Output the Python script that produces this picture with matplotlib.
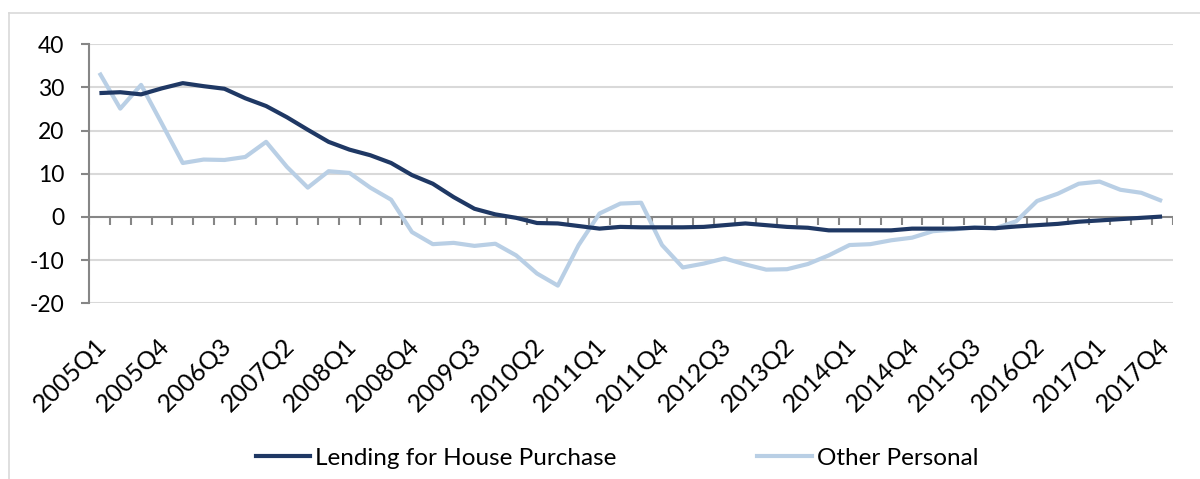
import numpy as np
import matplotlib
matplotlib.use("Agg")
import matplotlib.pyplot as plt
from matplotlib.lines import Line2D
from matplotlib.transforms import ScaledTranslation

plt.rcParams['font.family'] = ['Lato', 'DejaVu Sans']

quarters = [f"{y}Q{q}" for y in range(2005, 2018) for q in range(1, 5)]

house = [28.7, 28.9, 28.4, 29.8, 31.0, 30.3, 29.7, 27.5, 25.7, 23.1,
         20.2, 17.4, 15.6, 14.3, 12.5, 9.7, 7.7, 4.6, 1.9, 0.6,
         -0.2, -1.4, -1.5, -2.1, -2.7, -2.3, -2.4, -2.4, -2.4, -2.3,
         -1.9, -1.5, -1.9, -2.3, -2.5, -3.1, -3.1, -3.1, -3.1, -2.7,
         -2.7, -2.7, -2.5, -2.6, -2.2, -1.9, -1.6, -1.1, -0.8, -0.5,
         -0.2, 0.1]

other = [33.4, 25.1, 30.6, 21.6, 12.5, 13.3, 13.2, 13.9, 17.4, 11.6,
         6.8, 10.6, 10.2, 6.8, 4.0, -3.5, -6.3, -6.0, -6.7, -6.2,
         -8.9, -13.1, -15.9, -6.5, 0.8, 3.1, 3.3, -6.5, -11.7, -10.8,
         -9.6, -11.0, -12.2, -12.1, -10.9, -8.9, -6.5, -6.3, -5.4, -4.8,
         -3.3, -2.9, -2.4, -2.6, -1.0, 3.7, 5.4, 7.7, 8.2, 6.3,
         5.6, 3.7]

yticks = [-20, -10, 0, 10, 20, 30, 40]
label_step = 3

dark = '#1F3864'
light = '#B9CFE5'
axis_gray = '#868686'
grid_gray = '#D9D9D9'

fig = plt.figure(figsize=(12, 4.79), dpi=100)
ax = fig.add_axes([89/1200, 1 - 303.3/479, (1172.5 - 89)/1200, (303.3 - 44.3)/479])

x = np.arange(len(quarters))
ax.set_xlim(-0.5, len(quarters) - 0.5)
ax.set_ylim(yticks[0], yticks[-1])

for v in yticks:
    if v != 0:
        ax.axhline(v, color=grid_gray, lw=1.5, zorder=0)

ax.axhline(0, color=axis_gray, lw=1.5, zorder=1)
ax.vlines(np.arange(-0.5, len(quarters)), 0, -1.8, color=axis_gray, lw=1.5, zorder=1)

ax.plot(x, house, color=dark, lw=3.0, solid_capstyle='butt', zorder=3,
        label='Lending for House Purchase')
ax.plot(x, other, color=light, lw=3.0, solid_capstyle='butt', zorder=2,
        label='Other Personal')

for s in ['top', 'right', 'bottom']:
    ax.spines[s].set_visible(False)
ax.spines['left'].set_color(axis_gray)
ax.spines['left'].set_linewidth(1.5)

ax.set_yticks(yticks)
ax.set_yticklabels([str(v) for v in yticks], fontsize=16.5)
ax.tick_params(axis='y', length=5.8, width=1.5, color=axis_gray, pad=12)

idx = x[::label_step]
ax.set_xticks(idx)
ax.set_xticklabels([quarters[i] for i in idx], rotation=45, ha='right',
                   rotation_mode='anchor', fontsize=18)
ax.tick_params(axis='x', length=0, pad=22)
shift = ScaledTranslation(-5/100, 0, fig.dpi_scale_trans)
for lab in ax.get_xticklabels():
    lab.set_transform(lab.get_transform() + shift)

handles = [Line2D([], [], color=dark, lw=3.0), Line2D([], [], color=light, lw=3.0)]
fig.legend(handles, ['Lending for House Purchase', 'Other Personal'],
           loc='center', bbox_to_anchor=(617/1200, 1 - 458/479), ncol=2,
           frameon=False, fontsize=17.5, handlelength=2.25, handletextpad=0.2,
           columnspacing=5.8)

# chart frame
fig.add_artist(Line2D([9/1200, 1], [1 - 13/479, 1 - 13/479], color=grid_gray, lw=1.2,
                      transform=fig.transFigure))
fig.add_artist(Line2D([9/1200, 9/1200], [0, 1 - 13/479], color=grid_gray, lw=1.2,
                      transform=fig.transFigure))

fig.savefig('out.png', dpi=100)
